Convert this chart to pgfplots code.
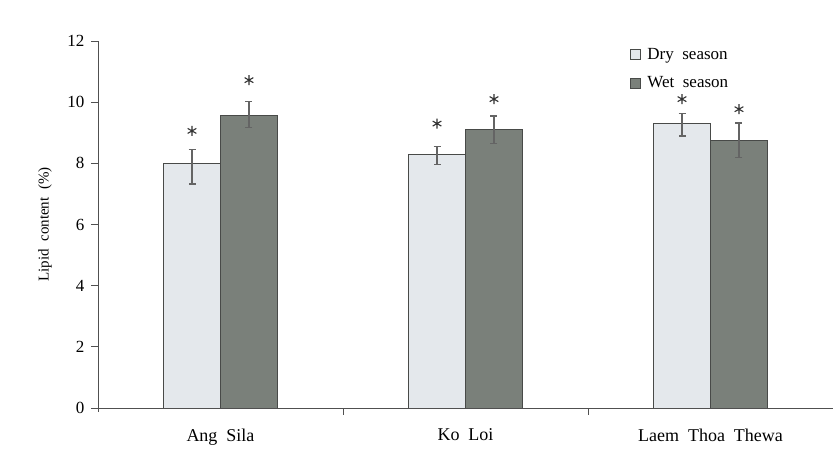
\documentclass[border=0pt]{standalone}
\usepackage{fontspec}
\setmainfont{Liberation Serif}
\usepackage{pgfplots}
\pgfplotsset{compat=1.18}
\definecolor{dryfill}{RGB}{228,232,236}
\definecolor{wetfill}{RGB}{122,128,122}
\definecolor{edge}{RGB}{72,74,72}
\definecolor{axcol}{RGB}{80,80,80}
\definecolor{errcol}{RGB}{100,100,100}
\begin{document}
\begin{tikzpicture}
\path[use as bounding box, fill=white] (-98pt,-52pt) rectangle (735pt,408pt);
\begin{axis}[
  at={(0pt,0pt)}, anchor=south west,
  width=735pt, height=367pt, scale only axis,
  xmin=-0.5, xmax=2.5, ymin=0, ymax=12,
  axis x line*=bottom, axis y line*=left,
  axis line style={axcol, line width=0.9pt},
  x axis line style={shorten <=-6pt},
  y axis line style={shorten <=-4pt},
  ytick={0,2,4,6,8,10,12},
  tick align=outside, major tick length=7pt,
  tick style={axcol, line width=0.9pt},
  xtick={0.5,1.5}, xticklabels={},
  extra x ticks={0,1,2},
  extra x tick labels={Ang\ \ Sila, Ko\ \ Loi, Laem\ \ Thoa\ \ Thewa},
  extra x tick style={major tick length=0pt, tick style={draw=none}},
  /pgf/number format/assume math mode=true,
  yticklabel style={font=\fontsize{17}{20}\selectfont, xshift=-3pt},
  xticklabel style={font=\fontsize{18}{21}\selectfont, yshift=-17pt},
  every axis y label/.style={at={(axis description cs:0,0.5)}, xshift=-53pt, rotate=90, anchor=center, font=\fontsize{15}{18}\selectfont},
  ylabel={Lipid\ \ content\ \ (\%)},
  legend style={at={(axis description cs:0.723,0.987)}, anchor=north west, draw=none, fill=none,
    font=\fontsize{17}{20}\selectfont, row sep=12pt, column sep=5pt, inner sep=0pt},
  legend cell align=left,
  legend image code/.code={\draw[#1, line width=0.8pt] (0pt,-5pt) rectangle (10pt,5pt);},
]
\addplot[ybar, bar width=57pt, bar shift=0pt, fill=dryfill, draw=edge, line width=0.8pt,
  error bars/.cd, y dir=both, y explicit,
  error bar style={errcol, line width=1.3pt},
  error mark options={rotate=90, mark size=3.5pt, errcol, line width=1.3pt}]
  coordinates {(-0.1163,8.0) += (0,0.46) -= (0,0.68)
               (0.8837,8.29) += (0,0.27) -= (0,0.33)
               (1.8837,9.30) += (0,0.34) -= (0,0.41)};
\addlegendentry{Dry\ \ season}
\addplot[ybar, bar width=57pt, bar shift=0pt, fill=wetfill, draw=edge, line width=0.8pt,
  error bars/.cd, y dir=both, y explicit,
  error bar style={errcol, line width=1.3pt},
  error mark options={rotate=90, mark size=3.5pt, errcol, line width=1.3pt}]
  coordinates {(0.1163,9.58) += (0,0.45) -= (0,0.40)
               (1.1163,9.12) += (0,0.43) -= (0,0.48)
               (2.1163,8.75) += (0,0.57) -= (0,0.56)};
\addlegendentry{Wet\ \ season}
\addplot[only marks, mark=asterisk, mark size=5pt, mark options={line width=1.1pt, draw=black!80}, forget plot]
  coordinates {(-0.1163,9.06) (0.1163,10.72) (0.8837,9.3) (1.1163,10.1) (1.8837,10.1) (2.1163,9.77)};
\end{axis}
\end{tikzpicture}
\end{document}
